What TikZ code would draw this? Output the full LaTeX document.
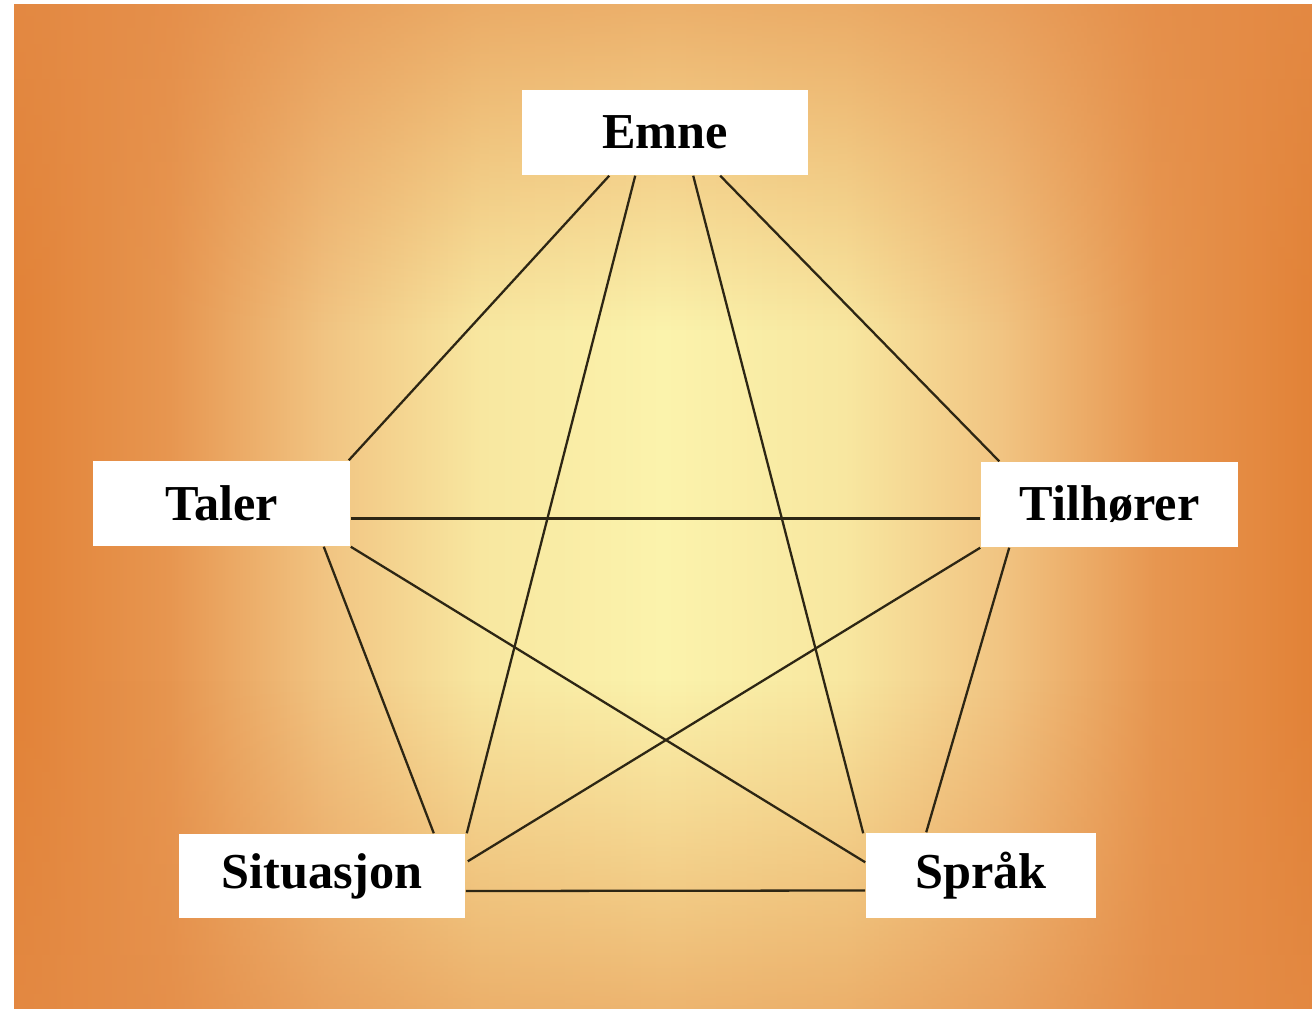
\documentclass[tikz,border=0pt]{standalone}
\usepackage{fontspec}
\setmainfont{Liberation Serif}
\usetikzlibrary{calc,fadings}
\definecolor{cA}{RGB}{226,130,55}
\definecolor{cB}{RGB}{231,150,80}
\definecolor{cC}{RGB}{241,196,130}
\definecolor{cD}{RGB}{248,231,160}
\definecolor{cE}{RGB}{251,243,172}
\definecolor{ovC}{RGB}{228,140,72}
\definecolor{lineC}{RGB}{45,38,20}
\pgfdeclarehorizontalshading{hbg}{100bp}{color(0bp)=(cA); color(25bp)=(cA); color(31bp)=(cB); color(37bp)=(cC); color(43bp)=(cD); color(50bp)=(cE); color(57bp)=(cD); color(63bp)=(cC); color(69bp)=(cB); color(75bp)=(cA); color(100bp)=(cA)}
\tikzfading[name=fadedown, top color=transparent!35, bottom color=transparent!100]
\tikzfading[name=fadeup, top color=transparent!100, bottom color=transparent!40]
\begin{document}
\begin{tikzpicture}[x=0.01cm,y=-0.01cm,
  box/.style={fill=white, inner sep=0pt, font=\fontsize{14.3}{17}\selectfont\bfseries},
  link/.style={draw=lineC, line width=0.65pt}]
\useasboundingbox (0,0) rectangle (1312,1009);
\fill[white] (0,0) rectangle (1312,1009);
\shade[shading=hbg] (14,4) rectangle (1312,1009);
\fill[ovC, path fading=fadedown] (14,4) rectangle (1312,330);
\fill[ovC, path fading=fadeup] (14,680) rectangle (1312,1009);

\node[box, minimum width=2.86cm, minimum height=0.85cm] (emne) at (665,132.5) {Emne};
\node[box, minimum width=2.57cm, minimum height=0.85cm] (taler) at (221.5,503.5) {Taler};
\node[box, minimum width=2.57cm, minimum height=0.85cm] (tilh) at (1109.5,504.5) {Tilhører};
\node[box, minimum width=2.86cm, minimum height=0.84cm] (sit) at (322,876) {Situasjon};
\node[box, minimum width=2.30cm, minimum height=0.85cm] (spr) at (981,875.5) {Språk};

\draw[link] ($(emne.south west)+(88,0)$) -- ($(taler.north east)+(-2,0)$);
\draw[link] ($(emne.south west)+(114,0)$) -- ($(sit.north east)+(1,0)$);
\draw[link] ($(emne.south west)+(172,0)$) -- ($(spr.north west)+(-2,1)$);
\draw[link] ($(emne.south west)+(199,0)$) -- ($(tilh.north west)+(19,0)$);
\draw[link] ($(taler.east)+(0,15)$) -- ($(tilh.west)+(0,14)$);
\draw[link] ($(taler.south east)+(-27,0)$) -- ($(sit.north east)+(-32,0)$);
\draw[link] (taler.south east) -- ($(spr.north west)+(0,30)$);
\draw[link] (tilh.south west) -- ($(sit.north east)+(2,28)$);
\draw[link] ($(tilh.south west)+(29,0)$) -- ($(spr.north west)+(61,0)$);
\draw[link] ($(sit.east)+(0,15)$) -- ($(spr.west)+(0,15)$);
\end{tikzpicture}
\end{document}
